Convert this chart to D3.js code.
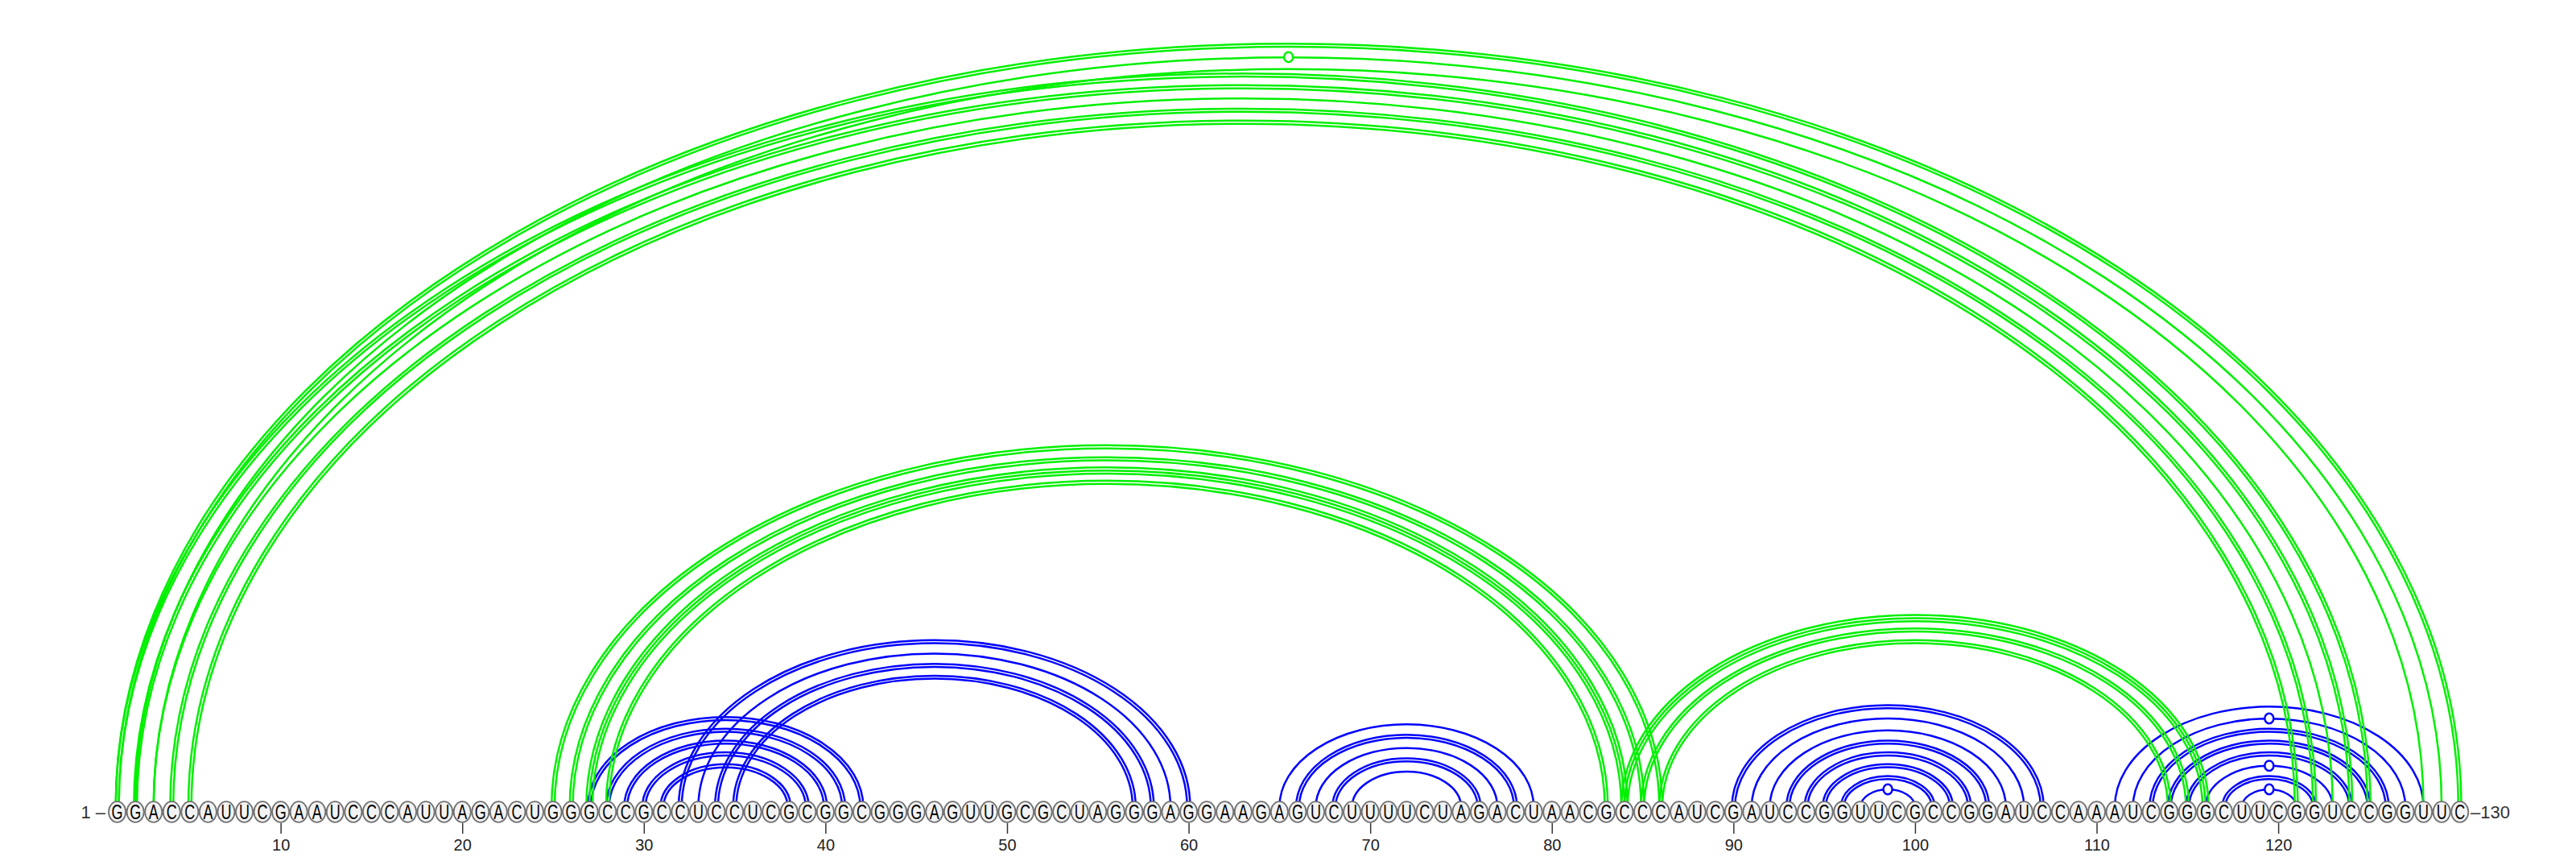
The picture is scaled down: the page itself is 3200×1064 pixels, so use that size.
<!DOCTYPE html>
<html>
<head>
<meta charset="utf-8">
<script src="https://cdn.jsdelivr.net/npm/d3@7"></script>
<style>
  body { margin: 0; background: #fff; }
</style>
</head>
<body>
<svg id="chart" width="3200" height="1064"></svg>
<script>
// sequence, one letter per base
const sequence = 'GGACCAUUCGAAUCCCAUUAGACUGGGCCGCCUCCUCGCGGCGGGAGUUGCGCUAGGGAGGAAGAGUCUUUUCUAGACUAACGCCCAUCGAUCCGGUUCGCCGGAUCCAAAUCGGGCUUCGGUCCGGUUC'.split('');

// base pairs [i, j, how many structures have it]
const bluePairs = [
  [27, 42, 2], [28, 41, 2], [29, 40, 2], [30, 39, 2], [31, 38, 2],
  [32, 60, 2], [33, 59, 1], [34, 58, 2], [35, 57, 2],
  [65, 79, 1], [66, 78, 2], [67, 77, 1], [68, 76, 2], [69, 75, 1],
  [90, 107, 2], [91, 106, 1], [92, 105, 1], [93, 104, 2], [94, 103, 2], [95, 102, 2], [96, 101, 2], [97, 100, 1],
  [111, 128, 1], [112, 127, 1], [113, 126, 2], [114, 125, 2], [115, 124, 2], [116, 123, 1], [117, 122, 2], [118, 121, 1]
];

const greenPairs = [
  [1, 130, 2], [2, 129, 1], [3, 128, 1], [1, 125, 2], [2, 124, 2], [3, 123, 1], [4, 122, 2], [5, 121, 2],
  [25, 86, 2], [26, 85, 2], [27, 84, 3], [28, 83, 2],
  [84, 116, 3], [85, 115, 2], [86, 114, 2]
];

const tickPositions = [10, 20, 30, 40, 50, 60, 70, 80, 90, 100, 110, 120];

const svg = d3.select('#chart');

const x = d3.scaleLinear()
  .domain([1, sequence.length])
  .range([145.6, 3055.7]);

const baseY = 1008,
      arcY = 1002,
      ratio = 0.65,
      gap = 3.8;

function arcPath(i, j, off){
  const x1 = x(i), x2 = x(j);
  const cx = (x1 + x2) / 2;
  const rx = (x2 - x1) / 2 + off;
  const ry = (x2 - x1) / 2 * ratio + off;
  return `M${cx - rx},${arcY} A${rx},${ry} 0 0 1 ${cx + rx},${arcY}`;
}

function isGU(i, j){
  const p = sequence[i - 1] + sequence[j - 1];
  return p == 'GU' || p == 'UG';
}

function drawPairs(pairs, color){
  const lines = [];
  pairs.forEach(function(p){
    for(let k = 0; k < p[2]; k++){
      lines.push({i: p[0], j: p[1], off: (k - (p[2] - 1) / 2) * gap});
    }
  });

  svg.append('g')
    .selectAll('path')
    .data(lines)
    .join('path')
    .attr('d', d => arcPath(d.i, d.j, d.off))
    .attr('fill', 'none')
    .attr('stroke', color)
    .attr('stroke-width', 2.5);
}

drawPairs(bluePairs, '#0000ff');
drawPairs(greenPairs, '#00f000');

// G-U pairs get a small ring on top of the arc
const markers = [];
bluePairs.forEach(p => { if(isGU(p[0], p[1])) markers.push({i: p[0], j: p[1], color: '#0000ff'}); });
greenPairs.forEach(p => { if(isGU(p[0], p[1])) markers.push({i: p[0], j: p[1], color: '#00f000'}); });

svg.append('g')
  .selectAll('ellipse')
  .data(markers)
  .join('ellipse')
  .attr('cx', d => (x(d.i) + x(d.j)) / 2)
  .attr('cy', d => arcY - (x(d.j) - x(d.i)) / 2 * ratio)
  .attr('rx', 5.5)
  .attr('ry', 6.2)
  .attr('fill', '#fff')
  .attr('stroke', d => d.color)
  .attr('stroke-width', 2.5);

// bases
const bases = svg.append('g')
  .selectAll('g')
  .data(sequence)
  .join('g')
  .attr('transform', (d, i) => `translate(${x(i + 1)},${baseY})`);

bases.append('ellipse')
  .attr('rx', 10.6)
  .attr('ry', 12.8)
  .attr('fill', '#f2f2f2')
  .attr('stroke', '#707070')
  .attr('stroke-width', 1.8);

bases.append('text')
  .attr('transform', 'scale(0.72,1)')
  .attr('y', 8.8)
  .attr('text-anchor', 'middle')
  .attr('font-family', 'Liberation Sans, Arial, sans-serif')
  .attr('font-size', 25)
  .attr('fill', '#000')
  .text(d => d);

// position axis
const axis = d3.axisBottom(x)
  .tickValues(tickPositions)
  .tickSize(13)
  .tickPadding(7);

const ax = svg.append('g')
  .attr('transform', `translate(0,1022)`)
  .call(axis);

ax.select('.domain').remove();
ax.selectAll('line').attr('stroke', '#333').attr('stroke-width', 1.5);
ax.selectAll('text')
  .attr('font-family', 'Liberation Sans, Arial, sans-serif')
  .attr('font-size', 20)
  .attr('fill', '#222');

// end labels
svg.append('text')
  .attr('x', 131)
  .attr('y', baseY + 8)
  .attr('text-anchor', 'end')
  .attr('font-family', 'Liberation Sans, Arial, sans-serif')
  .attr('font-size', 22)
  .attr('fill', '#333')
  .text('1 \u2013');

svg.append('text')
  .attr('x', 3069)
  .attr('y', baseY + 8)
  .attr('text-anchor', 'start')
  .attr('font-family', 'Liberation Sans, Arial, sans-serif')
  .attr('font-size', 22)
  .attr('fill', '#333')
  .text('\u2013130');
</script>
</body>
</html>
